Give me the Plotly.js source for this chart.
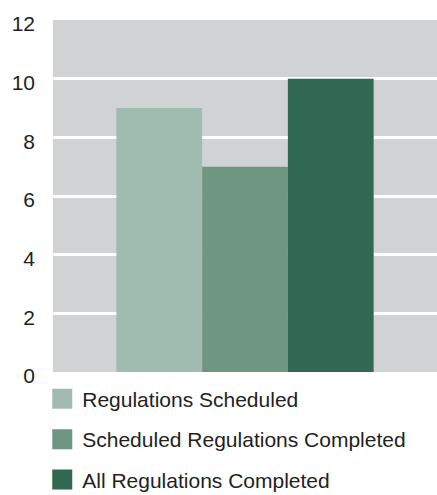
<!DOCTYPE html>
<html>
<head>
<meta charset="utf-8">
<script src="https://cdn.plot.ly/plotly-3.0.1.min.js"></script>
<style>html,body{margin:0;padding:0;background:#fff;}#chart{width:437px;height:495px;}</style>
</head>
<body>
<div id="chart"></div>
<script>
const seriesNames = ['Regulations Scheduled', 'Scheduled Regulations Completed', 'All Regulations Completed'];
const seriesValues = [9, 7, 10];
const seriesColors = ['#a0bbb0', '#6f9683', '#316852'];
const yTickValues = [0, 2, 4, 6, 8, 10, 12];

const traces = seriesNames.map((name, i) => ({
  type: 'bar',
  name: name,
  x: [0],
  y: [seriesValues[i]],
  legendgroup: 'g' + i,
  marker: {color: seriesColors[i], line: {width: 0}},
  hoverinfo: 'skip'
}));

const layout = {
  width: 437,
  height: 495,
  margin: {l: 53, r: 0, t: 20, b: 123, autoexpand: false},
  paper_bgcolor: '#ffffff',
  plot_bgcolor: '#d1d2d4',
  barmode: 'group',
  bargap: 0.33,
  bargroupgap: 0,
  showlegend: true,
  font: {family: '"Liberation Sans", Arial, sans-serif', color: '#231f20'},
  xaxis: {
    range: [-0.5, 0.5],
    showticklabels: false,
    showgrid: false,
    zeroline: false,
    showline: false,
    ticks: ''
  },
  yaxis: {
    range: [0, 12],
    tickvals: yTickValues,
    ticktext: yTickValues.map(String),
    showgrid: true,
    gridcolor: '#ffffff',
    gridwidth: 3,
    zeroline: false,
    showline: false,
    ticks: '',
    ticklabelstandoff: 17,
    ticklabelshift: 4,
    tickfont: {size: 21, color: '#231f20'}
  },
  legend: {
    orientation: 'v',
    x: -0.028,
    xanchor: 'left',
    y: -0.019,
    yanchor: 'top',
    traceorder: 'grouped',
    tracegroupgap: 10,
    bgcolor: 'rgba(0,0,0,0)',
    borderwidth: 0,
    font: {size: 21, color: '#231f20'}
  }
};

function bigSymbols() {
  document.querySelectorAll('.legend .legendpoints path').forEach(p => {
    p.setAttribute('d', 'M10,10H-10V-10H10Z');
  });
}

Plotly.newPlot('chart', traces, layout, {displayModeBar: false, staticPlot: true}).then(() => {
  bigSymbols();
  setTimeout(bigSymbols, 50);
});
</script>
</body>
</html>
